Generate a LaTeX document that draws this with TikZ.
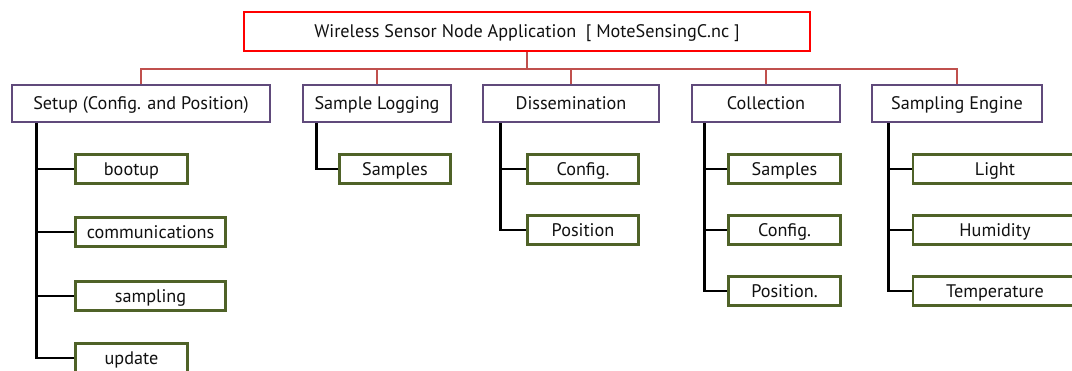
\documentclass[tikz,border=0pt]{standalone}
\usepackage{fontspec}
\setmainfont{PT Sans}
\definecolor{rootred}{HTML}{FF0000}
\definecolor{busred}{HTML}{C0504D}
\definecolor{grpviolet}{HTML}{604A7B}
\definecolor{leafgreen}{HTML}{4F6228}
\definecolor{txt}{HTML}{111111}
\tikzset{
  boxtext/.style={text=txt, font=\fontsize{18.2}{21}\selectfont,
    text height=12.6pt, text depth=0pt, inner sep=0pt},
  rootbox/.style={boxtext, draw=rootred, line width=2.6pt, fill=white,
    minimum width=566pt, minimum height=39pt},
  grpbox/.style={boxtext, draw=grpviolet, line width=2.6pt, fill=white,
    minimum height=37pt},
  leafbox/.style={boxtext, draw=leafgreen, line width=2.6pt, fill=white,
    minimum height=29pt},
  bus/.style={draw=busred, line width=2.2pt},
  trunk/.style={draw=black, line width=2.8pt},
}
\begin{document}
\begin{tikzpicture}[x=1pt,y=-1pt]
\useasboundingbox (0,0) rectangle (1072,371);
\clip (0,0) rectangle (1072,371);
\fill[white] (0,0) rectangle (1072,371);

% root
\node[rootbox] (root) at (527,31.5) {Wireless Sensor Node Application\ \ [ MoteSensingC.nc ]};

% groups
\node[grpbox, minimum width=258pt] (setup) at (141,103.5) {Setup (Config. and Position)};
\node[grpbox, minimum width=148pt] (slog)  at (377,103.5) {Sample Logging};
\node[grpbox, minimum width=176pt] (diss)  at (571,103.5) {Dissemination};
\node[grpbox, minimum width=148pt] (coll)  at (766,103.5) {Collection};
\node[grpbox, minimum width=170pt] (seng)  at (957,103.5) {Sampling Engine};

% bus from root to groups
\foreach \g in {setup,slog,diss,coll,seng}
  \draw[bus] (root.south) -- ++(0,17) -| (\g.north);

% setup leaves
\node[leafbox, minimum width=112pt] (bootup) at (131.5,169) {bootup};
\node[leafbox, minimum width=150pt] (comms)  at (150.5,232) {communications};
\node[leafbox, minimum width=150pt] (samp)   at (150.5,296) {sampling};
\node[leafbox, minimum width=112pt] (update) at (131.5,358) {update};

% sample logging leaves
\node[leafbox, minimum width=111pt] (lsamples) at (395,169) {Samples};

% dissemination leaves
\node[leafbox, minimum width=111pt] (dconfig) at (583,169) {Config.};
\node[leafbox, minimum width=111pt] (dpos)    at (583,230) {Position};

% collection leaves
\node[leafbox, minimum width=112pt] (csamples) at (784.5,169) {Samples};
\node[leafbox, minimum width=112pt] (cconfig)  at (784.5,230) {Config.};
\node[leafbox, minimum width=112pt] (cpos)     at (784.5,291) {Position.};

% sampling engine leaves
\node[leafbox, minimum width=164pt] (light) at (995,169) {Light};
\node[leafbox, minimum width=164pt] (humid) at (995,230) {Humidity};
\node[leafbox, minimum width=164pt] (temp)  at (995,291) {Temperature};

% trunks
\foreach \l in {bootup,comms,samp,update}
  \draw[trunk] ([xshift=26pt]setup.south west) |- (\l.west);
\draw[trunk] ([xshift=15pt]slog.south west) |- (lsamples.west);
\foreach \l in {dconfig,dpos}
  \draw[trunk] ([xshift=19pt]diss.south west) |- (\l.west);
\foreach \l in {csamples,cconfig,cpos}
  \draw[trunk] ([xshift=14pt]coll.south west) |- (\l.west);
\foreach \l in {light,humid,temp}
  \draw[trunk] ([xshift=18pt]seng.south west) |- (\l.west);
\end{tikzpicture}
\end{document}
